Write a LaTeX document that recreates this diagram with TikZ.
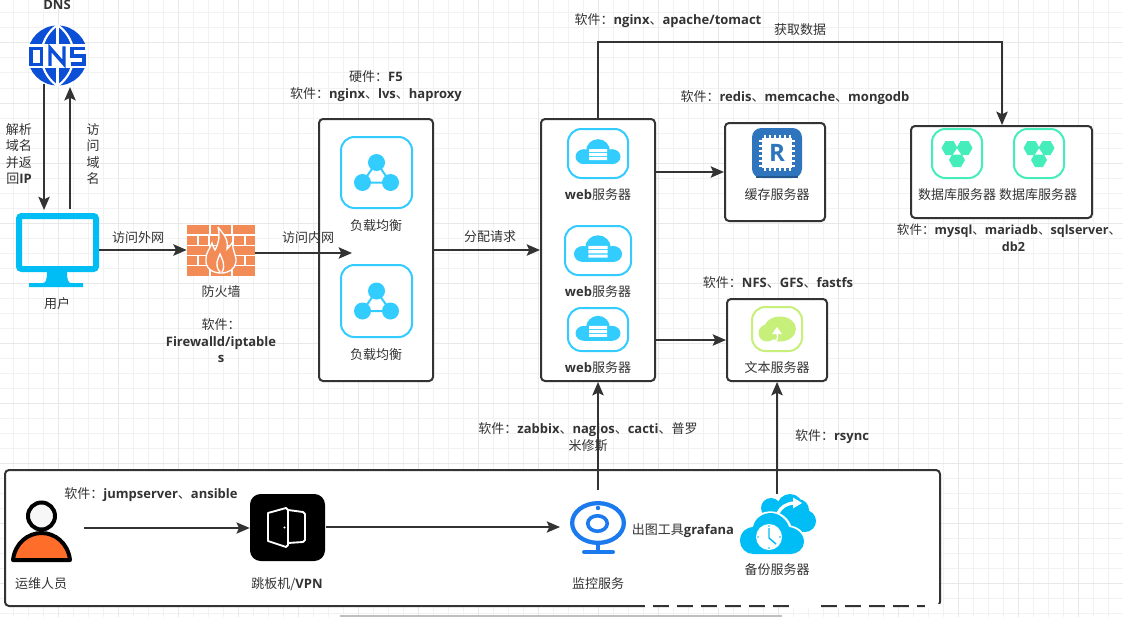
\documentclass[tikz,border=0pt]{standalone}
\usepackage{fontspec}
\setmainfont{Noto Sans CJK SC}
\newfontfamily\latinfont{Open Sans}
\newcommand{\lat}[1]{{\latinfont\bfseries #1}}
\usetikzlibrary{arrows.meta,fit,positioning,shapes.geometric}
\definecolor{inkgrey}{HTML}{333333}
\definecolor{lbblue}{HTML}{33CCFF}
\definecolor{skycyan}{HTML}{00BEF5}
\definecolor{dnsblue}{HTML}{0A4FD6}
\definecolor{brick}{HTML}{F38B57}
\definecolor{chipblue}{HTML}{2F75BD}
\definecolor{dbteal}{HTML}{45EDBB}
\definecolor{filegreen}{HTML}{C6F07A}
\definecolor{camblue}{HTML}{1B7BEE}
\definecolor{personorange}{HTML}{FF6D2A}
\tikzset{
	gridminor/.style={draw=black!5,line width=.75pt},
	gridmajor/.style={draw=black!9,line width=.75pt},
	groupbox/.style={draw=inkgrey,fill=white,line width=1.5pt,rounded corners=3pt,inner sep=0pt},
	softframe/.style={draw=#1,fill=white,line width=1.5pt,rounded corners=10pt,inner sep=0pt},
	flow/.style={->,draw=inkgrey,line width=1.5pt},
	lbl/.style={text=inkgrey,inner sep=0pt,align=center,yshift=-.75pt,font=\fontsize{9.75}{12.4}\selectfont},
	lbglyph/.pic={
		\draw[lbblue,line width=1.5pt] (0,-10) -- (-14,10) -- (14,10) -- cycle;
		\fill[lbblue] (0,-10) circle (8.5) (-14,10) circle (8.5) (14,10) circle (8.5);
	},
	webglyph/.pic={
		\fill[lbblue] (0,-1) circle (12);
		\fill[lbblue] (-14,4.5) ellipse (8.5 and 7.5);
		\fill[lbblue] (14,4.5) ellipse (8.5 and 7.5);
		\fill[lbblue] (-14,0) rectangle (14,12);
		\fill[white] (-9,-3) rectangle (9,0) (-9,1) rectangle (9,4) (-9,5) rectangle (9,8);
	},
	dbglyph/.pic={
		\foreach \cx/\cy in {-7.5/-5.5,7.5/-5.5,0/6.5}
			\fill[dbteal] (\cx-8,\cy) -- (\cx-4,\cy-7) -- (\cx+4,\cy-7) -- (\cx+8,\cy) -- (\cx+4,\cy+7) -- (\cx-4,\cy+7) -- cycle;
		\fill[white] (0,-5) -- (-4,1) -- (4,1) -- cycle;
	}
}
\begin{document}
\begin{tikzpicture}[x=.75pt,y=-.75pt,>={Stealth[length=10pt,width=8.5pt,inset=2pt]}]
	\useasboundingbox (0,0) rectangle (1123,617);
	\fill[white] (0,0) rectangle (1123,617);
	
	% the grid behind everything
	\foreach \g in {0,...,74} {
		\draw[gridminor] (13+15*\g,0) -- (13+15*\g,617);
	}
	\foreach \g in {0,...,40} {
		\draw[gridminor] (0,13+15*\g) -- (1123,13+15*\g);
	}
	\foreach \g in {0,...,18} {
		\draw[gridmajor] (58+60*\g,0) -- (58+60*\g,617);
	}
	\foreach \g in {0,...,9} {
		\draw[gridmajor] (0,43+60*\g) -- (1123,43+60*\g);
	}
	\draw[black!25,line width=1pt] (340,616) -- (782,616);
	
	% the boxes
	\node[groupbox,fit={(319,119)(433,381)}] (lbgroup) {};
	\node[groupbox,fit={(541,119)(655,381)}] (webgroup) {};
	\node[groupbox,fit={(725,123)(825,221)}] (cachegroup) {};
	\node[groupbox,fit={(727,299)(827,381)}] (filegroup) {};
	\node[groupbox,fit={(911,126)(1092,218)}] (dbgroup) {};
	\node[groupbox,fit={(5,470)(940,606)}] (opsgroup) {};
	
	% the dns globe
	\node[circle,fill=dnsblue,minimum size=45pt,inner sep=0pt] (dns) at (57.5,55.5) {};
	\draw[white,line width=1.6pt] (57.5,25) -- (57.5,86);
	\draw[white,line width=1.6pt] (57.5,25) .. controls (36,40) and (36,71) .. (57.5,86);
	\draw[white,line width=1.6pt] (57.5,25) .. controls (79,40) and (79,71) .. (57.5,86);
	\fill[white] (27,44) rectangle (88,68);
	\draw[dnsblue,line width=2.6pt] (31,48.5) rectangle (41.5,64.5);
	\draw[dnsblue,line width=2.6pt] (50,66) -- (50,48) -- (64,64) -- (64,46.5);
	\draw[dnsblue,line width=2.6pt] (85,48.5) -- (72,48.5) -- (72,56) -- (84,56) -- (84,64) -- (71,64);
	
	% the user screen
	\node[draw=skycyan,line width=4.5pt,rounded corners=2pt,inner sep=0pt,fit={(19,216)(96,269)}] (user) {};
	\fill[skycyan] (47,272) .. controls (47,279) and (46,283) .. (43,283) -- (29,283) -- (29,287) -- (83,287) -- (83,283) -- (71,283) .. controls (68,283) and (67,279) .. (67,272) -- cycle;
	
	% the firewall
	\node[fill=brick,inner sep=0pt,fit={(187,225)(255,276)}] (firewall) {};
	\foreach \wy in {235,245.3,255.5,265.8}
		\draw[white,line width=.8pt] (187,\wy) -- (255,\wy);
	\foreach \wy in {225,245.3,265.8} {
		\foreach \wx in {210,232}
			\draw[white,line width=.8pt] (\wx,\wy) -- (\wx,\wy+10.2);
	}
	\foreach \wy in {235,255.5} {
		\foreach \wx in {198,209,233,245}
			\draw[white,line width=.8pt] (\wx,\wy) -- (\wx,\wy+10.2);
	}
	\filldraw[fill=brick,draw=white,line width=1pt] (218,227) .. controls (222,233) and (229,238) .. (227,249) .. controls (229,247) and (232,244) .. (233,241) .. controls (231,248) and (237,256) .. (236,262) .. controls (235,269) and (229,273) .. (221,273) .. controls (212,273) and (205,268) .. (206,259) .. controls (206,252) and (210,249) .. (212,243) .. controls (213,247) and (214,248) .. (215,250) .. controls (219,243) and (220,236) .. (218,227);
	\draw[white,line width=1pt] (220,272) .. controls (214,265) and (218,259) .. (220,254) .. controls (222,259) and (226,265) .. (222,272);
	
	% the load balancers
	\node[softframe=lbblue,fit={(341,137)(412,208)}] (lbone) {};
	\node[softframe=lbblue,fit={(341,265)(412,337)}] (lbtwo) {};
	\pic at (lbone) {lbglyph};
	\pic at (lbtwo) {lbglyph};
	
	% the web servers
	\node[softframe=lbblue,fit={(568,129)(628,178)}] (webone) {};
	\node[softframe=lbblue,fit={(565,226)(631,275)}] (webtwo) {};
	\node[softframe=lbblue,fit={(568,308)(628,351)}] (webthree) {};
	\pic at ([yshift=1pt]webone) {webglyph};
	\pic[scale=1.07] at ([yshift=1pt]webtwo) {webglyph};
	\pic at ([yshift=.5pt]webthree) {webglyph};
	
	% the cache chip
	\node[fill=chipblue,rounded corners=7pt,inner sep=0pt,fit={(752,128)(802,178)}] (cacheicon) {};
	\draw[chipblue!75!black,line width=1.5pt] (756,177) -- (798,177);
	\fill[white] (762,138) rectangle (792,168);
	\foreach \t in {-12,-7,...,13} {
		\draw[white,line width=2.2pt] (777+\t,135) -- (777+\t,171);
		\draw[white,line width=2.2pt] (759,153+\t) -- (795,153+\t);
	}
	\fill[white] (763,139) rectangle (791,167);
	\node[text=chipblue,inner sep=0pt,font=\fontsize{18}{18}\selectfont\latinfont\bfseries] (cacher) at (cacheicon) {R};
	
	% the file server
	\node[softframe=filegreen,fit={(752,307)(802,351)}] (fileicon) {};
	\fill[filegreen] (767,333) circle (8.5);
	\fill[filegreen] (780,329) ellipse (16 and 12.5);
	\draw[white,line width=1pt] (773,340) .. controls (778,342) and (778,338) .. (777,333);
	\fill[white] (777,327) -- (772,334) -- (782,334) -- cycle;
	
	% the database icons
	\node[softframe=dbteal,fit={(932,129)(982,178)}] (dbone) {};
	\node[softframe=dbteal,fit={(1014,129)(1064,178)}] (dbtwo) {};
	\pic at (dbone) {dbglyph};
	\pic at (dbtwo) {dbglyph};
	
	% the operator
	\filldraw[fill=personorange,draw=black,line width=3pt,line join=round] (13,560) .. controls (15,543) and (28,533) .. (41.5,533) .. controls (55,533) and (68,543) .. (70,560) -- cycle;
	\node[circle,draw=black,fill=black!3,line width=3pt,minimum size=20.25pt,inner sep=0pt] (ops) at (41.5,516) {};
	
	% the jump host
	\node[fill=black,rounded corners=8pt,inner sep=0pt,fit={(250,494)(325,561)}] (jump) {};
	\draw[white,line width=1.4pt,line join=round] (288,510) -- (303,512) -- (305,514) -- (305,540) -- (303,542) -- (288,543);
	\draw[white,line width=1.4pt,line join=round] (268,513) -- (286,508) -- (288,510) -- (288,545) -- (286,547) -- (268,541) -- cycle;
	\fill[white] (284.5,527.5) circle (1.2);
	
	% the monitor camera
	\node[ellipse,draw=camblue,line width=3.2pt,minimum width=38.8pt,minimum height=29.8pt,inner sep=0pt] (monitor) at (598,523) {};
	\node[ellipse,draw=camblue,line width=2.7pt,minimum width=14.6pt,minimum height=11.6pt,inner sep=0pt] (lens) at (597.5,523.5) {};
	\fill[camblue] (598,508) circle (2.2);
	\draw[camblue,line width=3pt] (598,544) -- (598,552);
	\draw[camblue,line width=3pt,line cap=round] (584,552) -- (613,552);
	
	% the backup clouds
	\foreach \cx/\cy/\cr in {771/508/10,790/507/13,798/510/11,805/521/11}
		\fill[skycyan] (\cx,\cy) circle (\cr);
	\fill[skycyan] (771,505) rectangle (803,532);
	\draw[white,line width=4pt,fill=skycyan] (741,541) .. controls (741,531) and (748,527) .. (753,527) .. controls (755,517) and (764,514) .. (771,514) .. controls (779,514) and (787,520) .. (789,528) .. controls (797,529) and (803,534) .. (803,542) .. controls (803,549) and (797,554) .. (791,554) -- (753,554) .. controls (746,554) and (741,548) .. (741,541) -- cycle;
	\fill[skycyan] (740,541) .. controls (740,531) and (748,527) .. (753,527) .. controls (755,517) and (764,513) .. (771,513) .. controls (779,513) and (787,520) .. (789,527) .. controls (797,528) and (804,534) .. (804,542) .. controls (804,549) and (797,554) .. (791,554) -- (753,554) .. controls (746,554) and (740,548) .. (740,541) -- cycle;
	\draw[white,line width=2.4pt] (778,513) .. controls (781,507) and (787,503) .. (795,503);
	\fill[white] (802,503) -- (793,497.5) -- (793,508.5) -- cycle;
	\node[circle,fill=white,minimum size=19.5pt,inner sep=0pt] (backup) at (769,537) {};
	\draw[skycyan,line width=1.1pt] (769,528) -- (769,538) -- (776,544);
	\foreach \ang in {0,90,180,270}
		\fill[skycyan] (769,537) ++(\ang:11) circle (.9);
	
	% the arrows
	\draw[flow] ([xshift=-10.1pt,yshift=1pt]dns.south) -- ([xshift=-10.1pt,yshift=2.2pt]user.north);
	\draw[flow] ([xshift=9.4pt,yshift=3pt]user.north) -- ([xshift=9.4pt,yshift=-1pt]dns.south);
	\coordinate (fwarrow) at (99,250);
	\draw[flow] (fwarrow) -- (fwarrow -| firewall.west);
	\coordinate (lbarrow) at (352,253);
	\draw[flow] (firewall.east |- lbarrow) -- (lbarrow);
	\coordinate (splitarrow) at (433,250);
	\draw[flow] (splitarrow) -- (splitarrow -| webgroup.west);
	\coordinate (fetchturn) at (1002,42);
	\draw[flow] (webgroup.north) |- (fetchturn) -- (fetchturn |- dbgroup.north);
	\coordinate (cachearrow) at (655,172);
	\draw[flow] (cachearrow) -- (cachearrow -| cachegroup.west);
	\coordinate (filearrow) at (655,340);
	\draw[flow] (filearrow) -- (filearrow -| filegroup.west);
	\coordinate (opsarrow) at (84,528);
	\draw[flow,line width=1.1pt] (opsarrow) -- (opsarrow -| jump.west);
	\coordinate (jumparrow) at (326,527);
	\coordinate (monarrow) at (560,527);
	\draw[flow,line width=1.1pt] (jumparrow) -- (monarrow);
	\coordinate (monup) at (598,490);
	\draw[flow] (monup) -- (monup |- webgroup.south);
	\coordinate (backupup) at (777,494);
	\draw[flow] (backupup) -- (backupup |- filegroup.south);
	
	% the labels
	\node[lbl,font=\fontsize{9.75}{12.4}\selectfont\latinfont\bfseries] (dnslbl) at (57,4) {DNS};
	\node[lbl] (resolvelbl) at (19,153) {解析\\域名\\并返\\回\lat{IP}};
	\node[lbl] (visitlbl) at (93,153) {访\\问\\域\\名};
	\node[lbl] (userlbl) at (57,303) {用户};
	\node[lbl] (outlbl) at (138,237) {访问外网};
	\node[lbl] (fwlbl) at (221,291) {防火墙};
	\node[lbl] (fwsoft) at (221,340) {软件：\\\lat{Firewalld/iptable}\\\lat{s}};
	\node[lbl] (inlbl) at (308,237) {访问内网};
	\node[lbl] (f5lbl) at (376,85) {硬件：\lat{F5}\\软件：\lat{nginx}、\lat{lvs}、\lat{haproxy}};
	\node[lbl] (lbonelbl) at (376,225) {负载均衡};
	\node[lbl] (lbtwolbl) at (376,354) {负载均衡};
	\node[lbl] (splitlbl) at (490,236) {分配请求};
	\node[lbl] (webonelbl) at (598,194) {\lat{web}服务器};
	\node[lbl] (webtwolbl) at (598,291) {\lat{web}服务器};
	\node[lbl] (webthreelbl) at (598,367) {\lat{web}服务器};
	\node[lbl] (websoft) at (668,20) {软件：\lat{nginx}、\lat{apache/tomact}};
	\node[lbl] (fetchlbl) at (800,29) {获取数据};
	\node[lbl] (cachesoft) at (795,97) {软件：\lat{redis}、\lat{memcache}、\lat{mongodb}};
	\node[lbl] (cachelbl) at (777,194) {缓存服务器};
	\node[lbl] (filesoft) at (778,282) {软件：\lat{NFS}、\lat{GFS}、\lat{fastfs}};
	\node[lbl] (filelbl) at (777,367) {文本服务器};
	\node[lbl] (dbonelbl) at (957,194) {数据库服务器};
	\node[lbl] (dbtwolbl) at (1038,194) {数据库服务器};
	\node[lbl,font=\fontsize{9.45}{12.4}\selectfont] (dbsoft) at (1009,237) {软件：\lat{mysql}、\lat{mariadb}、\lat{sqlserver}、\\\hspace*{6.75pt}\lat{db2}};
	\node[lbl] (jumpsoft) at (151,494) {软件：\lat{jumpserver}、\lat{ansible}};
	\node[lbl] (opslbl) at (41,583) {运维人员};
	\node[lbl] (jumplbl) at (287,583) {跳板机/\lat{VPN}};
	\node[lbl] (monsoft) at (588,436) {软件：\lat{zabbix}、\lat{nagios}、\lat{cacti}、普罗\\米修斯};
	\node[lbl] (rsynclbl) at (832,436) {软件：\lat{rsync}};
	\node[lbl] (grafanalbl) at (683,530) {出图工具\lat{grafana}};
	\node[lbl] (monlbl) at (598,583) {监控服务};
	\node[lbl] (backuplbl) at (777,569) {备份服务器};
	
	% the rubbed out end of the bottom edge
	\draw[white,line width=2.5pt,dash pattern=on 6pt off 12pt] (645,606) -- (940,606);
	\draw[white,line width=3pt] (790,606) -- (815,606) (925,606) -- (942,606);
\end{tikzpicture}
\end{document}
